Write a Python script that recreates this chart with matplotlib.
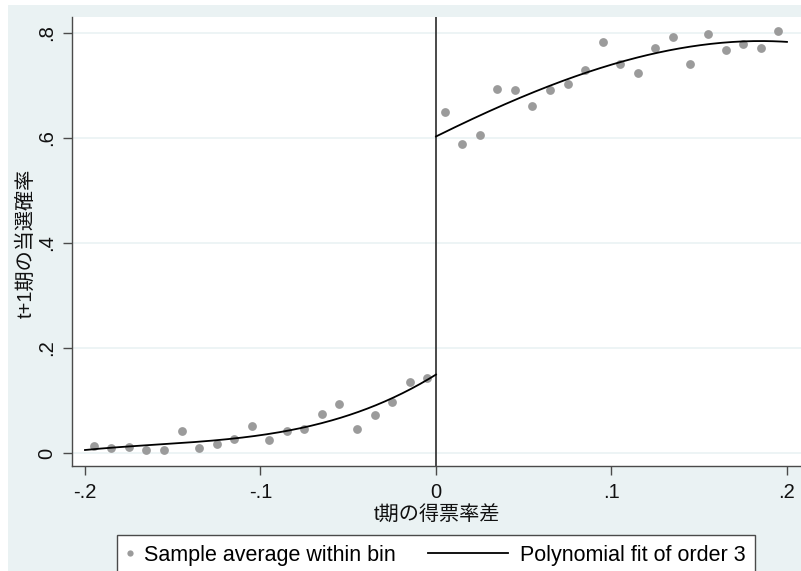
import numpy as np
import matplotlib
matplotlib.use('Agg')
import matplotlib.pyplot as plt
from matplotlib.lines import Line2D
from matplotlib.patches import Rectangle
from matplotlib.legend_handler import HandlerBase

#####################################################################

bg = '#eaf2f3'
dotc = '#9b9b9b'
axc = '#4a4a4a'
fs = 14.5
fsl = 15.5
jp = ['Liberation Sans', 'Noto Sans CJK JP']

plt.rcParams['font.family'] = ['Liberation Sans', 'Noto Sans CJK JP']

# bin averages, left of cutoff
x_left = [-0.195, -0.185, -0.175, -0.165, -0.155, -0.145, -0.135, -0.125, -0.115, -0.105,
          -0.095, -0.085, -0.075, -0.065, -0.055, -0.045, -0.035, -0.025, -0.015, -0.005]
y_left = [0.013, 0.010, 0.011, 0.006, 0.006, 0.042, 0.010, 0.018, 0.026, 0.052,
          0.025, 0.042, 0.046, 0.074, 0.093, 0.046, 0.073, 0.098, 0.135, 0.142]

# bin averages, right of cutoff
x_right = [0.005, 0.015, 0.025, 0.035, 0.045, 0.055, 0.065, 0.075, 0.085, 0.095,
           0.105, 0.115, 0.125, 0.135, 0.145, 0.155, 0.165, 0.175, 0.185, 0.195]
y_right = [0.649, 0.589, 0.605, 0.693, 0.692, 0.661, 0.692, 0.703, 0.730, 0.782,
           0.741, 0.723, 0.771, 0.793, 0.741, 0.799, 0.767, 0.779, 0.771, 0.803]

xticks = [-0.2, -0.1, 0, 0.1, 0.2]
xticklabels = ['-.2', '-.1', '0', '.1', '.2']
yticks = [0, 0.2, 0.4, 0.6, 0.8]
yticklabels = ['0', '.2', '.4', '.6', '.8']

#####################################################################

# cubic fits on each side of the cutoff
pl = np.polyfit(x_left, y_left, 3)
pr = np.polyfit(x_right, y_right, 3)
gl = np.linspace(-0.2, 0, 200)
gr = np.linspace(0, 0.2, 200)


class LongLine(HandlerBase):
    def create_artists(self, legend, orig_handle, xdescent, ydescent,
                       width, height, fontsize, trans):
        y = height / 2 - ydescent
        x1 = -xdescent + width - 1
        ln = Line2D([x1 - 57, x1], [y, y], color='black', lw=1.3)
        ln.set_transform(trans)
        return [ln]


fig = plt.figure(figsize=(8.01, 5.71), dpi=100)
fig.patch.set_facecolor('white')
fig.add_artist(Rectangle((8/801, 0), 1, 1 - 5/571, transform=fig.transFigure,
                         facecolor=bg, edgecolor='none', zorder=0))

ax = fig.add_axes([72/801, (571-466)/571, (801-72)/801, (466-17)/571])
ax.set_facecolor('white')

ax.yaxis.grid(True, color=bg, lw=1.2)
ax.set_axisbelow(True)

ax.scatter(x_left, y_left, s=40, color=dotc, zorder=3, linewidths=0)
ax.scatter(x_right, y_right, s=40, color=dotc, zorder=3, linewidths=0)
ax.plot(gl, np.polyval(pl, gl), color='black', lw=1.3, zorder=4)
ax.plot(gr, np.polyval(pr, gr), color='black', lw=1.3, zorder=4)
ax.axvline(0, color='#3a3a3a', lw=1.3, zorder=2)

ax.set_xlim(-0.2074, 0.208)
ax.set_ylim(-0.0248, 0.8305)

for s in ['top', 'right']:
    ax.spines[s].set_visible(False)
for s in ['left', 'bottom']:
    ax.spines[s].set_color(axc)
    ax.spines[s].set_linewidth(1.0)

ax.set_xticks(xticks)
ax.set_xticklabels(xticklabels)
ax.set_yticks(yticks)
ax.set_yticklabels(yticklabels, rotation=90, va='center')
ax.tick_params(axis='both', colors=axc, labelcolor='#111111', labelsize=fs,
               length=6.5, width=1.0)
ax.tick_params(axis='y', pad=5)
ax.tick_params(axis='x', pad=6)

ax.set_xlabel('t期の得票率差', fontsize=fs, family=jp, color='#111111')
ax.xaxis.set_label_coords(0.5, -(515-466)/449)
ax.xaxis.label.set_va('center')
ax.set_ylabel('t+1期の当選確率', fontsize=fs, family=jp, color='#111111')
ax.yaxis.set_label_coords((26-72)/729, (466-243)/449)
ax.yaxis.label.set_va('center')
ax.yaxis.label.set_ha('center')

h_dot = Line2D([], [], marker='o', ls='', color=dotc, ms=4.5, mew=0)
h_fit = Line2D([], [], color='black', lw=1.3)
fig.legend([h_dot, h_fit], ['Sample average within bin', 'Polynomial fit of order 3'],
           ncol=2, loc='upper left', mode='expand',
           bbox_to_anchor=(117/801, 0, (755-117)/801, 1 - 535/571),
           fontsize=fsl, frameon=True, fancybox=False, edgecolor=axc,
           facecolor='white', framealpha=1, handlelength=0.3,
           handletextpad=0.5, borderpad=0.45, borderaxespad=0,
           handler_map={h_fit: LongLine()})

fig.savefig('out.png', dpi=100, facecolor=fig.get_facecolor())
